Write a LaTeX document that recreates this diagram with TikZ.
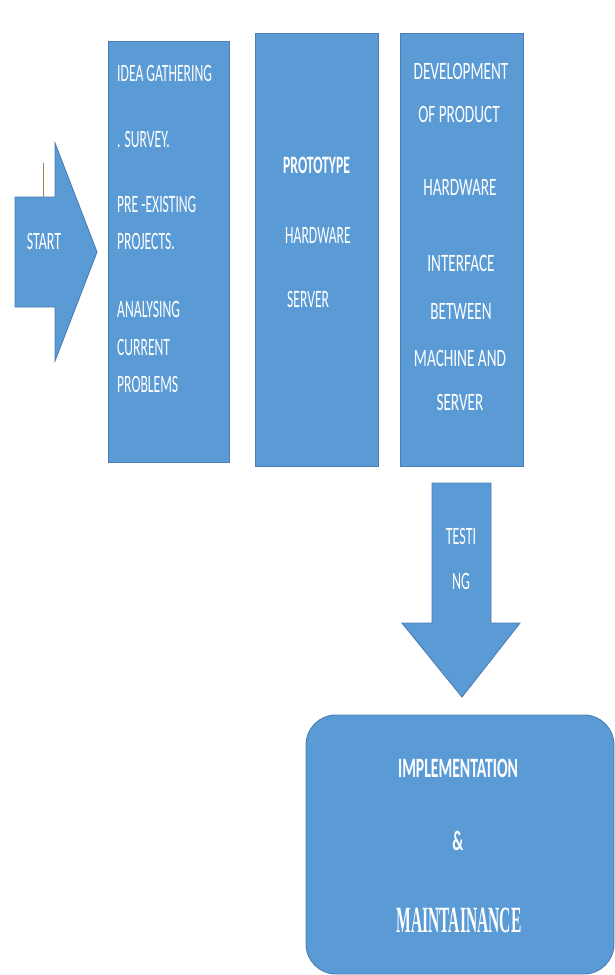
\documentclass[tikz,border=0pt]{standalone}
\usepackage{fontspec}
\newfontfamily\fa[FakeStretch=0.545]{Carlito}
\newfontfamily\fb[FakeStretch=0.61]{Carlito}
\newfontfamily\fc[FakeStretch=0.56]{Carlito}
\newfontfamily\fs[FakeStretch=0.42]{Liberation Serif}
\definecolor{boxblue}{HTML}{5B9BD5}
\definecolor{edgeblue}{HTML}{4A7DB5}
\begin{document}
\begin{tikzpicture}[x=1pt,y=-1pt,
  shapefill/.style={fill=boxblue,draw=edgeblue,line width=0.9pt},
  bigbox/.style={shapefill,rectangle,inner sep=0pt},
  txt/.style={text=white,inner sep=0pt,font=\fa\fontsize{25}{25}\selectfont},
  txtc/.style={text=white,inner sep=0pt,font=\fb\fontsize{25}{25}\selectfont,anchor=base},
]
\useasboundingbox (0,0) rectangle (615,975);
\fill[white] (0,0) rectangle (615,975);

% START arrow
\draw[shapefill] (15,197) -- (55,197) -- (55,143) -- (97,252) -- (55,361) -- (55,307) -- (15,307) -- cycle;
\coordinate (startmark) at (43,163);
\coordinate (startmarkend) at (43,197);
\draw[draw=brown!60!gray,line width=0.6pt] (startmark) -- (startmarkend);
\node[txt,anchor=base,font=\fc\fontsize{25}{25}\selectfont] (start) at (44,249) {START};

% Box 1
\node[bigbox,minimum width=121pt,minimum height=421pt] (b1) at (168.5,251.5) {};
\node[txt,anchor=base west] (b1t1) at (117,81) {IDEA GATHERING};
\node[txt,anchor=base west] (b1t2) at (117,147) {. SURVEY.};
\node[txt,anchor=base west] (b1t3) at (117,212) {PRE -EXISTING};
\node[txt,anchor=base west] (b1t4) at (117,249) {PROJECTS.};
\node[txt,anchor=base west] (b1t5) at (117,317) {ANALYSING};
\node[txt,anchor=base west] (b1t6) at (117,355) {CURRENT};
\node[txt,anchor=base west] (b1t7) at (117,392) {PROBLEMS};

% Box 2
\node[bigbox,minimum width=123pt,minimum height=433pt] (b2) at (316.5,249.5) {};
\node[txt,anchor=base west,font=\fa\bfseries\fontsize{25}{25}\selectfont] (b2t1) at (283,173) {PROTOTYPE};
\node[txt,anchor=base west] (b2t2) at (285,243) {HARDWARE};
\node[txt,anchor=base west] (b2t3) at (287,307) {SERVER};

% Box 3
\node[bigbox,minimum width=123pt,minimum height=433pt] (b3) at (461.5,249.5) {};
\node[txtc] (b3t1) at (461,79) {DEVELOPMENT};
\node[txtc] (b3t2) at (459,122) {OF PRODUCT};
\node[txtc] (b3t3) at (460,195) {HARDWARE};
\node[txtc] (b3t4) at (461,271) {INTERFACE};
\node[txtc] (b3t5) at (461,319) {BETWEEN};
\node[txtc] (b3t6) at (460,366) {MACHINE AND};
\node[txtc] (b3t7) at (460,410) {SERVER};

% Testing arrow
\draw[shapefill] (432,483) -- (491,483) -- (491,623) -- (520,623) -- (462,697) -- (402,623) -- (432,623) -- cycle;
\node[txt,anchor=base,font=\fc\fontsize{25}{25}\selectfont] (test1) at (461,544) {TESTI};
\node[txt,anchor=base,font=\fc\fontsize{25}{25}\selectfont] (test2) at (461,589) {NG};

% Implementation box
\draw[shapefill,rounded corners=30pt] (306,715) rectangle (614,974);
\node[txt,anchor=base,font=\fc\bfseries\fontsize{28}{28}\selectfont] (impl1) at (458,777) {IMPLEMENTATION};
\node[txt,anchor=base,font=\fc\bfseries\fontsize{28}{28}\selectfont] (impl2) at (458,850) {\&};
\node[txt,anchor=base,font=\fs\bfseries\fontsize{37}{37}\selectfont] (impl3) at (459,932) {MAINTAINANCE};
\end{tikzpicture}
\end{document}
